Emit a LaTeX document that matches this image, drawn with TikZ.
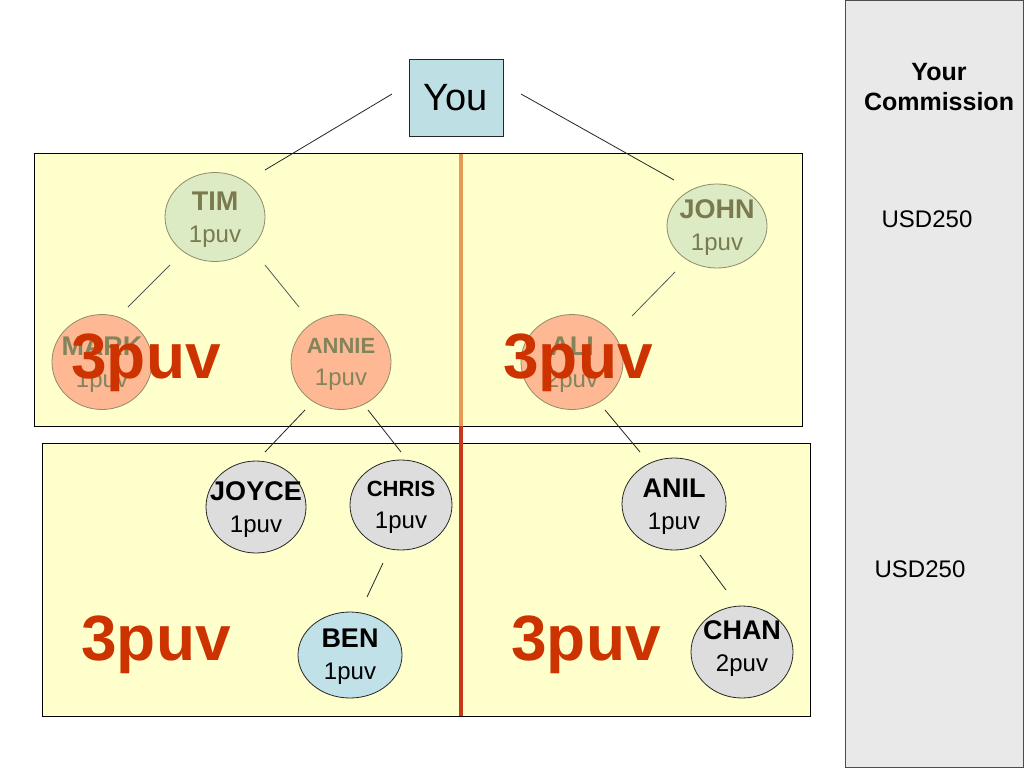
\documentclass[tikz,border=0pt]{standalone}
\usepackage{fontspec}
\setmainfont{Liberation Sans}
\usetikzlibrary{shapes.geometric,calc}
\definecolor{panelyellow}{HTML}{FFFFCC}
\definecolor{sidegray}{HTML}{E9E9E9}
\definecolor{tgreen}{HTML}{DCEBC4}
\definecolor{tsalmon}{HTML}{FFB894}
\definecolor{tborder}{HTML}{8C8C6A}
\definecolor{ttext}{HTML}{7A7A4E}
\definecolor{ttexttwo}{HTML}{84845C}
\definecolor{lgray}{HTML}{DDDDDD}
\definecolor{lblue}{HTML}{BFE1E7}
\definecolor{youblue}{HTML}{BEE0E4}
\definecolor{puvred}{HTML}{CC3300}
\definecolor{lineorange}{HTML}{E39A55}
\definecolor{linered}{HTML}{C6381A}
\newcommand\pnm[1]{{\fontsize{27}{32}\selectfont\bfseries #1}}
\newcommand\pnms[1]{{\fontsize{22}{28}\selectfont\bfseries #1}}
\begin{document}
\begin{tikzpicture}[x=1pt,y=-1pt,
  person/.style={ellipse, draw, minimum width=102pt, minimum height=91pt,
    inner sep=0pt, line width=0.8pt},
  topgreen/.style={person, fill=tgreen, draw=tborder},
  toporange/.style={person, fill=tsalmon, draw=tborder},
  lowgray/.style={person, fill=lgray, draw=black!85},
  lowblue/.style={person, fill=lblue, draw=black!85},
  ptext/.style={align=center, inner sep=0pt, font=\fontsize{24}{32}\selectfont},
  toptext/.style={ptext, text=ttext},
  toptexttwo/.style={ptext, text=ttexttwo},
  toplink/.style={draw=black!65, line width=0.8pt},
  link/.style={draw=black!85, line width=0.8pt},
  big/.style={text=puvred, anchor=base, inner sep=0pt, font=\fontsize{64}{70}\selectfont\bfseries},
  side/.style={font=\fontsize{24}{30}\selectfont, align=center, inner sep=0pt}
]
\useasboundingbox (0,0) rectangle (1024,768);
\fill[white] (0,0) rectangle (1024,768);
% side panel
\draw[fill=sidegray, draw=black!70, line width=0.8pt] (845,0.5) rectangle (1023.5,767.5);
\node[side, font=\fontsize{25}{30}\selectfont\bfseries] (yc) at (939,87) {Your\\Commission};
\node[side] (usd1) at (927,219) {USD250};
\node[side] (usd2) at (920,569) {USD250};
% panels
\draw[fill=panelyellow, line width=0.8pt] (34,153) rectangle (802,426);
\draw[fill=panelyellow, line width=0.8pt] (42,443) rectangle (810,716);
\draw[line width=3.5pt, draw=lineorange] (461,153.5) -- (461,426);
\draw[line width=3.5pt, draw=linered] (461,426) -- (461,715.5);
% nodes
\node[draw=black!85, fill=youblue, line width=0.8pt, minimum width=94pt, minimum height=77pt,
  inner sep=0pt, font=\fontsize{38}{40}\selectfont] (you) at (456,98) {You};
\node[topgreen, minimum width=100pt, minimum height=89pt] (tim) at (215,217) {};
\node[topgreen, minimum width=100pt, minimum height=84pt] (john) at (717,226) {};
\node[toporange, minimum width=100pt, minimum height=95pt] (mark) at (102,362) {};
\node[toporange, minimum width=100pt, minimum height=95pt] (annie) at (341,362) {};
\node[toporange, minimum width=102pt, minimum height=95pt] (ali) at (572,362) {};
\node[lowgray, minimum width=100pt, minimum height=92pt] (joyce) at (256,507) {};
\node[lowgray, minimum width=102pt, minimum height=90pt] (chris) at (401,505) {};
\node[lowblue, minimum width=104pt, minimum height=86pt] (ben) at (350,655) {};
\node[lowgray, minimum width=104pt, minimum height=92pt] (anil) at (674,504) {};
\node[lowgray, minimum width=102pt, minimum height=92pt] (chan) at (742,652) {};
% node texts
\node[toptext] (tim-t) at ($(tim)+(0,3)$) {\pnm{TIM}\\1puv};
\node[toptext] (john-t) at ($(john)+(0,2)$) {\pnm{JOHN}\\1puv};
\node[toptexttwo] (mark-t) at ($(mark)+(0,3)$) {\pnm{MARK}\\1puv};
\node[toptexttwo] (annie-t) at ($(annie)+(0,2)$) {\pnms{ANNIE}\\1puv};
\node[toptexttwo] (ali-t) at ($(ali)+(0,3)$) {\pnm{ALI}\\2puv};
\node[ptext] (joyce-t) at ($(joyce)+(0,3)$) {\pnm{JOYCE}\\1puv};
\node[ptext] (chris-t) at ($(chris)+(0,2)$) {\pnms{CHRIS}\\1puv};
\node[ptext] (ben-t) at ($(ben)+(0,2)$) {\pnm{BEN}\\1puv};
\node[ptext] (anil-t) at ($(anil)+(0,3)$) {\pnm{ANIL}\\1puv};
\node[ptext] (chan-t) at ($(chan)+(0,-3)$) {\pnm{CHAN}\\2puv};
% connectors
\draw[link] ($(you)+(-64,-4)$) -- ($(tim)+(50,-47)$);
\draw[link] ($(you)+(65,-4)$) -- ($(john)+(-43,-46)$);
\draw[toplink] ($(tim)+(-45,48)$) -- ($(mark)+(26,-55)$);
\draw[toplink] ($(tim)+(50,48)$) -- ($(annie)+(-42,-55)$);
\draw[toplink] ($(john)+(-42,46)$) -- ($(ali)+(60,-46)$);
\draw[link] ($(annie)+(-36,48)$) -- ($(joyce)+(9,-55)$);
\draw[link] ($(annie)+(27,48)$) -- ($(chris)+(0,-53)$);
\draw[link] ($(ali)+(33,48)$) -- ($(anil)+(-34,-52)$);
\draw[link] ($(chris)+(-18,58)$) -- ($(ben)+(17,-58)$);
\draw[link] ($(anil)+(26,51)$) -- ($(chan)+(-16,-62)$);
% big labels
\node[big] (p1) at (146,378) {3puv};
\node[big] (p2) at (578,378) {3puv};
\node[big] (p3) at (156,660) {3puv};
\node[big] (p4) at (586,660) {3puv};
\end{tikzpicture}
\end{document}
